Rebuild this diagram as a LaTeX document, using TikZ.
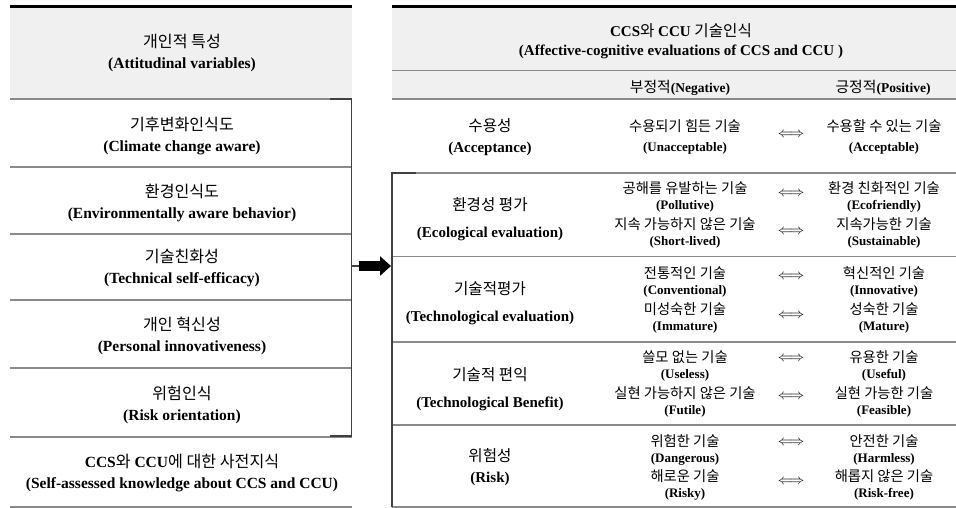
\documentclass[tikz,border=0pt]{standalone}
\usepackage{fontspec}
\setmainfont{Liberation Serif}
\newfontfamily\kr[Scale=1.04]{Noto Sans CJK KR}
\newfontfamily\kri[Scale=1.1]{Noto Sans CJK KR}
\usetikzlibrary{arrows.meta}

\definecolor{rulegray}{HTML}{8A8A8A}
\definecolor{bandgray}{HTML}{F0F0F0}
\definecolor{brackgray}{HTML}{404040}

\tikzset{
  rule/.style={rulegray, line width=1.2pt},
  brack/.style={brackgray, line width=1.4pt},
  lefttxt/.style={align=center, font=\fontsize{15.5}{21}\selectfont},
  hdrtxt/.style={align=center, font=\fontsize{15}{19}\selectfont},
  subtxt/.style={font={\fontsize{13.5}{16}\selectfont\let\kr\kri}},
  cattxt/.style={align=center, font=\fontsize{15}{#1}\selectfont},
  cattxt/.default=27,
  itemtxt/.style={align=center, font={\fontsize{13}{#1}\selectfont\let\kr\kri}},
  itemtxt/.default=16,
  dblarr/.style={font=\fontsize{15}{18}\selectfont}
}

\newcommand{\kb}[2]{{\kr #1}\\\textbf{#2}}

\begin{document}
\begin{tikzpicture}[x=1pt,y=-1pt]
    \useasboundingbox (0,0) rectangle (956,508);
    % left panel
    \fill [bandgray] (10,8) rectangle (352,99);
    \draw [line width=3pt] (10,6.5) -- (352,6.5);
    \draw [rule] (10,99) -- (352,99);
    \draw [rule] (10,167) -- (352,167);
    \draw [rule] (10,234) -- (352,234);
    \draw [rule] (10,300) -- (352,300);
    \draw [rule] (10,368) -- (352,368);
    \draw [rule] (10,437) -- (352,437);
    \draw [rule] (10,507) -- (352,507);
    \draw [brack] (330,99) -- (351.5,99) -- (351.5,436) -- (330,436);
    \node [lefttxt] (attitude) at (182,53) {\kb{개인적 특성}{(Attitudinal variables)}};
    \node [lefttxt] (climate) at (182,136) {\kb{기후변화인식도}{(Climate change aware)}};
    \node [lefttxt] (envaware) at (182,202.5) {\kb{환경인식도}{(Environmentally aware behavior)}};
    \node [lefttxt] (selfeff) at (182,268) {\kb{기술친화성}{(Technical self-efficacy)}};
    \node [lefttxt] (innovate) at (182,336) {\kb{개인 혁신성}{(Personal innovativeness)}};
    \node [lefttxt] (riskori) at (182,405) {\kb{위험인식}{(Risk orientation)}};
    \node [lefttxt] (knowledge) at (182,473) {\textbf{CCS}{\kr 와} \textbf{CCU}{\kr 에 대한 사전지식}\\\textbf{(Self-assessed knowledge about CCS and CCU)}};
    % right panel
    \fill [bandgray] (392,8) rectangle (956,99);
    \draw [line width=3pt] (392,6.5) -- (956,6.5);
    \draw [rule] (392,70.5) -- (956,70.5);
    \draw [rule] (392,99) -- (956,99);
    \draw [rule] (392,173) -- (956,173);
    \draw [rule] (392,256.5) -- (956,256.5);
    \draw [rule] (392,342) -- (956,342);
    \draw [rule] (392,425) -- (956,425);
    \draw [rule] (392,507) -- (956,507);
    \draw [brack] (416,173) -- (392,173) -- (392,507);
    \node [hdrtxt] (cogeval) at (681,41) {\textbf{CCS}{\kr 와} \textbf{CCU} {\kr 기술인식}\\\textbf{(Affective-cognitive evaluations of CCS and CCU )}};
    \node [subtxt] (negative) at (680,88) {{\kr 부정적}\textbf{(Negative)}};
    \node [subtxt] (positive) at (883,88) {{\kr 긍정적}\textbf{(Positive)}};
    % acceptance
    \node [cattxt=21] (accept) at (490,137.5) {\kb{수용성}{(Acceptance)}};
    \node [itemtxt=20] (unaccbl) at (685,137) {\kb{수용되기 힘든 기술}{(Unacceptable)}};
    \node [itemtxt=20] (accbl) at (884,137) {\kb{수용할 수 있는 기술}{(Acceptable)}};
    \node [dblarr] (accarr) at (791,135) {$\Longleftrightarrow$};
    % ecological
    \node [cattxt] (ecoeval) at (490,219) {\kb{환경성 평가}{(Ecological evaluation)}};
    \node [itemtxt] (pollutive) at (685,197) {\kb{공해를 유발하는 기술}{(Pollutive)}};
    \node [itemtxt] (ecofriend) at (884,197) {\kb{환경 친화적인 기술}{(Ecofriendly)}};
    \node [itemtxt] (shortlived) at (685,233) {\kb{지속 가능하지 않은 기술}{(Short-lived)}};
    \node [itemtxt] (sustain) at (884,233) {\kb{지속가능한 기술}{(Sustainable)}};
    \node [dblarr] (ecoarra) at (791,194) {$\Longleftrightarrow$};
    \node [dblarr] (ecoarrb) at (791,232) {$\Longleftrightarrow$};
    % technological
    \node [cattxt] (techeval) at (490,303.5) {\kb{기술적평가}{(Technological evaluation)}};
    \node [itemtxt] (convent) at (685,281.5) {\kb{전통적인 기술}{(Conventional)}};
    \node [itemtxt] (innovat) at (884,281.5) {\kb{혁신적인 기술}{(Innovative)}};
    \node [itemtxt] (immature) at (685,318) {\kb{미성숙한 기술}{(Immature)}};
    \node [itemtxt] (mature) at (884,318) {\kb{성숙한 기술}{(Mature)}};
    \node [dblarr] (techarra) at (791,277) {$\Longleftrightarrow$};
    \node [dblarr] (techarrb) at (791,316) {$\Longleftrightarrow$};
    % benefit
    \node [cattxt] (benefit) at (490,389) {\kb{기술적 편익}{(Technological Benefit)}};
    \node [itemtxt] (useless) at (685,365.5) {\kb{쓸모 없는 기술}{(Useless)}};
    \node [itemtxt] (useful) at (884,365.5) {\kb{유용한 기술}{(Useful)}};
    \node [itemtxt] (futile) at (685,402) {\kb{실현 가능하지 않은 기술}{(Futile)}};
    \node [itemtxt] (feasible) at (884,402) {\kb{실현 가능한 기술}{(Feasible)}};
    \node [dblarr] (benarra) at (791,359) {$\Longleftrightarrow$};
    \node [dblarr] (benarrb) at (791,397) {$\Longleftrightarrow$};
    % risk
    \node [cattxt=21] (riskcat) at (490,467) {\kb{위험성}{(Risk)}};
    \node [itemtxt] (danger) at (685,449.5) {\kb{위험한 기술}{(Dangerous)}};
    \node [itemtxt] (harmless) at (884,449.5) {\kb{안전한 기술}{(Harmless)}};
    \node [itemtxt] (risky) at (685,485) {\kb{해로운 기술}{(Risky)}};
    \node [itemtxt] (riskfree) at (884,485) {\kb{해롭지 않은 기술}{(Risk-free)}};
    \node [dblarr] (riskarra) at (791,443) {$\Longleftrightarrow$};
    \node [dblarr] (riskarrb) at (791,482) {$\Longleftrightarrow$};
    % arrow between the two panels
    \coordinate (brl) at (351.5,266);
    \coordinate (brr) at (391,266);
    \draw [brack] (brl) -- ++(7,0) coordinate (brs);
    \draw [line width=10pt,-{Triangle[length=11pt,width=19pt]}] (brs) -- (brr);
\end{tikzpicture}
\end{document}
